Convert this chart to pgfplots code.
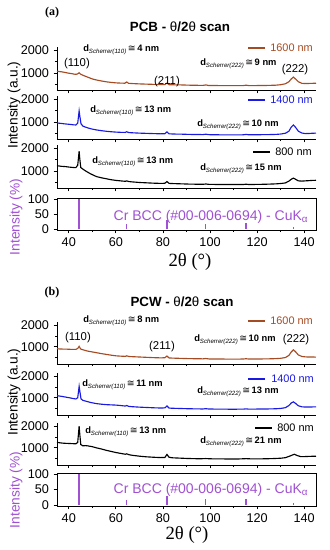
\documentclass[border=0pt]{standalone}
\usepackage{pgfplots}
\pgfplotsset{compat=1.18}
\usepackage{fontspec}
\setmainfont{Liberation Sans}
\newfontfamily\seriffont{Liberation Serif}
\newfontfamily\symfont{DejaVu Sans}
\definecolor{cbrown}{RGB}{165,75,35}
\definecolor{cblue}{RGB}{25,25,225}
\definecolor{cviolet}{RGB}{160,80,210}
\newcommand{\dsch}[2]{{\fontsize{7}{8}\selectfont\bfseries d\raisebox{-1.5pt}{\fontsize{4.6}{5}\selectfont\itshape\mdseries Scherrer(#1)}\,{\symfont\mdseries ≅}\,#2 nm}}
\pgfplotsset{
 base/.style={scale only axis, width=194.25pt, xmin=35, xmax=145, anchor=south west,
   tick align=outside, xtick={40,60,...,140}, minor xtick={50,70,...,130},
   major tick length=2.5pt, minor tick length=1.6pt,
   tick style={line width=0.6pt, black},
   ticklabel style={font=\fontsize{9.5}{10}\selectfont},
   /pgf/number format/1000 sep={}, /pgf/number format/assume math mode=true},
 xrd/.style={base, axis x line*=bottom, axis y line*=left, axis line style={line width=0.6pt,-},
   xticklabels={}, ytick={1000,2000}, minor ytick={500,1500}, ymax=2150},
 xrda/.style={xrd, height=32.625pt, ymin=260},
 xrdb/.style={xrd, height=31.5pt, ymin=200},
 refax/.style={base, axis line style={line width=0.6pt}, xtick pos=left, ytick pos=left,
   ytick={0,50,100}, ymin=-3, ymax=103},
 curve/.style={line width=0.85pt, no markers},
 sticks/.style={ycomb, mark=none, draw=cviolet, line width=1pt},
}
\begin{document}
\begin{tikzpicture}
\path[use as bounding box] (0pt,0pt) rectangle (246.75pt,-412.5pt);

% ---------------- Panel (a) ----------------
\begin{axis}[xrda, at={(42.75pt,-67.5pt)}]
\addplot[curve, cbrown] coordinates {
(35,1080)(36,1060)(37,1050)(38,1030)(39,1010)(40,990)(41,975)(42,955)(43,940)(43.8,960)(44.4,1010)(45,950)(46,900)(47,860)(48,820)(49,780)(50,740)(52,690)(54,650)(56,615)(58,590)(60,570)(62,560)(63.8,555)(64.6,610)(65.4,550)(67,540)(70,525)(73,515)(76,505)(79,495)(80.8,495)(81.7,560)(82.6,490)(85,485)(88,480)(91,470)(94,465)(97,460)(98.2,480)(99.5,455)(102,455)(105,450)(108,450)(111,448)(114,450)(115.3,470)(116.5,450)(119,452)(122,455)(125,460)(128,470)(130,490)(132,530)(133.5,620)(134.5,740)(135.4,820)(136.3,740)(137.5,620)(139,550)(140.5,540)(142,545)(143.5,550)(145,555)};
\end{axis}
\begin{axis}[xrda, at={(42.75pt,-104.25pt)}]
\addplot[curve, cblue] coordinates {
(35,960)(36,945)(37,935)(38,920)(39,910)(40,900)(41,890)(42,875)(43,870)(43.8,950)(44.2,1300)(44.4,1480)(44.7,1250)(45.2,920)(46,820)(47,780)(48,745)(49,715)(50,690)(52,650)(54,620)(56,595)(58,575)(60,560)(62,550)(64,545)(64.6,575)(65.5,540)(67,530)(70,515)(73,505)(76,495)(79,485)(80.8,490)(81.7,570)(82.6,485)(85,475)(88,470)(91,460)(94,455)(97,452)(98.2,470)(99.5,448)(102,445)(105,440)(108,440)(111,440)(114,442)(115.3,460)(116.5,442)(119,445)(122,448)(125,452)(128,460)(130,475)(132,510)(133.5,600)(134.5,780)(135.4,870)(136.3,770)(137.5,600)(139,520)(140.5,495)(142,500)(143.5,510)(145,515)};
\end{axis}
\begin{axis}[xrda, at={(42.75pt,-141pt)}]
\addplot[curve, black] coordinates {
(35,1230)(36,1215)(37,1200)(38,1195)(39,1185)(40,1170)(41,1160)(42,1150)(43,1145)(43.8,1250)(44.2,1650)(44.4,1860)(44.7,1500)(45.1,1150)(46,1080)(47,1010)(48,950)(49,890)(50,840)(51,790)(52,750)(54,700)(56,660)(58,620)(60,590)(62,570)(64,550)(64.6,570)(65.5,540)(67,525)(70,500)(73,485)(76,470)(79,460)(80.8,465)(81.7,540)(82.6,460)(85,450)(88,440)(91,430)(94,425)(97,420)(98.2,435)(99.5,418)(102,415)(105,412)(108,410)(111,410)(114,412)(115.3,425)(116.5,412)(119,415)(122,420)(125,428)(128,440)(130,455)(132,480)(133.5,560)(134.5,640)(135.4,690)(136.3,640)(137.5,570)(139,560)(140.5,570)(142,580)(143.5,590)(145,595)};
\end{axis}
\begin{axis}[refax, height=23.85pt, at={(42.75pt,-172.5pt)}]
\addplot[sticks] coordinates {(44.4,100)(64.6,16)(81.7,30)(98.2,18)(115.3,20)(135.4,6)};
\end{axis}

% ---------------- Panel (b) ----------------
\begin{axis}[xrdb, at={(42.75pt,-273pt)}]
\addplot[curve, cbrown] coordinates {
(35,910)(36,900)(37,895)(38,890)(39,890)(40,885)(41,880)(42,880)(43,880)(43.8,920)(44.4,1020)(45,900)(46,860)(47,830)(48,800)(49,780)(50,760)(52,720)(54,680)(56,645)(58,610)(60,580)(62,565)(64,555)(64.6,580)(65.5,550)(67,540)(70,525)(73,510)(76,495)(79,485)(80.8,490)(81.7,570)(82.6,480)(85,470)(88,460)(91,450)(94,445)(97,440)(98.2,455)(99.5,435)(102,432)(105,430)(108,428)(111,428)(114,430)(115.3,445)(116.5,430)(119,432)(122,435)(125,440)(128,450)(130,465)(132,500)(133.5,600)(134.5,760)(135.4,860)(136.3,770)(137.5,620)(139,550)(140.5,530)(142,525)(143.5,525)(145,520)};
\end{axis}
\begin{axis}[xrdb, at={(42.75pt,-311.25pt)}]
\addplot[curve, cblue] coordinates {
(35,1100)(36,1080)(37,1065)(38,1045)(39,1025)(40,1005)(41,985)(42,960)(43,945)(43.8,1000)(44.2,1350)(44.4,1530)(44.7,1300)(45.2,950)(46,880)(47,850)(48,820)(49,790)(50,765)(52,725)(54,700)(56,680)(58,670)(60,660)(62,640)(64,615)(64.6,640)(65.5,600)(67,585)(70,565)(73,550)(76,535)(79,525)(80.8,530)(81.7,620)(82.6,520)(85,510)(88,500)(91,490)(94,485)(97,480)(98.2,495)(99.5,478)(102,475)(105,472)(108,470)(111,470)(114,472)(115.3,485)(116.5,472)(119,475)(122,478)(125,482)(128,490)(130,505)(132,540)(133.5,640)(134.5,760)(135.4,810)(136.3,740)(137.5,630)(139,580)(140.5,570)(142,570)(143.5,575)(145,575)};
\end{axis}
\begin{axis}[xrdb, at={(42.75pt,-348.75pt)}]
\addplot[curve, black] coordinates {
(35,1250)(36,1235)(37,1220)(38,1210)(39,1205)(40,1200)(41,1195)(42,1190)(43,1185)(43.8,1250)(44.2,1750)(44.4,2000)(44.7,1600)(45.1,1150)(46,1090)(47,1100)(48,1090)(49,1070)(50,1050)(51,1020)(52,990)(54,940)(56,880)(58,830)(60,780)(62,740)(64,700)(64.6,720)(65.5,680)(67,650)(70,610)(73,580)(76,560)(79,545)(80.8,550)(81.7,690)(82.6,560)(84,535)(87,520)(90,505)(93,495)(96,490)(98.2,500)(100,488)(103,485)(106,482)(109,480)(112,480)(115.3,495)(118,482)(121,485)(124,490)(127,500)(130,515)(132,540)(134,620)(135.8,700)(137,640)(138.5,590)(140,590)(142,600)(143.5,605)(145,610)};
\end{axis}
\begin{axis}[refax, height=24.7pt, at={(42.75pt,-379.5pt)}]
\addplot[sticks] coordinates {(44.4,100)(64.6,16)(81.7,30)(98.2,18)(115.3,20)(135.4,6)};
\end{axis}

\begin{scope}[x=0.75pt, y=-0.75pt]
% ---------------- Texts (a) ----------------
\node[font=\seriffont\bfseries\fontsize{9}{10}\selectfont] at (52,13) {(a)};
\node[font=\bfseries\fontsize{10}{12}\selectfont] at (180,27) {PCB - {\mdseries θ}/2{\mdseries θ} scan};
\node[rotate=90, font=\fontsize{10.3}{12}\selectfont] at (14,105) {Intensity (a.u.)};
\node[rotate=90, font=\fontsize{10.3}{12}\selectfont, text=cviolet] at (16,217) {Intensity (\%)};
\node[font=\seriffont\fontsize{14}{16}\selectfont] at (190,262) {2θ (°)};
\node[anchor=east, font=\fontsize{10.5}{12}\selectfont, text=cviolet] at (313,217) {Cr BCC (\#00-006-0694) - CuK\textsubscript{α}};
\draw[cbrown, line width=0.8pt] (248,48) -- (265,48);
\node[anchor=west, font=\fontsize{8.2}{9}\selectfont, text=cbrown, inner sep=0pt] at (270,48) {1600 nm};
\draw[cblue, line width=0.8pt] (248,100) -- (265,100);
\node[anchor=west, font=\fontsize{8.2}{9}\selectfont, text=cblue, inner sep=0pt] at (270,100) {1400 nm};
\draw[black, line width=0.8pt] (253,152) -- (270,152);
\node[anchor=west, font=\fontsize{8.2}{9}\selectfont, inner sep=0pt] at (275,152) {800 nm};
\node[anchor=west, inner sep=0pt] at (83,50) {\dsch{110}{4}};
\node[font=\fontsize{8.5}{9}\selectfont] at (77,64) {(110)};
\node[font=\fontsize{8.5}{9}\selectfont] at (167,82) {(211)};
\node[anchor=west, inner sep=0pt] at (200,64) {\dsch{222}{9}};
\node[font=\fontsize{8.5}{9}\selectfont] at (295,70) {(222)};
\node[anchor=west, inner sep=0pt] at (90,111) {\dsch{110}{13}};
\node[anchor=west, inner sep=0pt] at (197,125) {\dsch{222}{10}};
\node[anchor=west, inner sep=0pt] at (92,162) {\dsch{110}{13}};
\node[anchor=west, inner sep=0pt] at (200,169) {\dsch{222}{15}};

% ---------------- Texts (b) ----------------
\node[font=\seriffont\bfseries\fontsize{9}{10}\selectfont] at (52,293) {(b)};
\node[font=\bfseries\fontsize{10}{12}\selectfont] at (182,302) {PCW - {\mdseries θ}/2{\mdseries θ} scan};
\node[rotate=90, font=\fontsize{10.3}{12}\selectfont] at (14,392) {Intensity (a.u.)};
\node[rotate=90, font=\fontsize{10.3}{12}\selectfont, text=cviolet] at (16,490) {Intensity (\%)};
\node[font=\seriffont\fontsize{14}{16}\selectfont] at (187,535) {2θ (°)};
\node[anchor=east, font=\fontsize{10.5}{12}\selectfont, text=cviolet] at (313,490) {Cr BCC (\#00-006-0694) - CuK\textsubscript{α}};
\draw[cbrown, line width=0.8pt] (248,321) -- (265,321);
\node[anchor=west, font=\fontsize{8.2}{9}\selectfont, text=cbrown, inner sep=0pt] at (270,321) {1600 nm};
\draw[cblue, line width=0.8pt] (248,379) -- (265,379);
\node[anchor=west, font=\fontsize{8.2}{9}\selectfont, text=cblue, inner sep=0pt] at (271,379) {1400 nm};
\draw[black, line width=0.8pt] (255,428) -- (272,428);
\node[anchor=west, font=\fontsize{8.2}{9}\selectfont, inner sep=0pt] at (277,428) {800 nm};
\node[anchor=west, inner sep=0pt] at (83,321) {\dsch{110}{8}};
\node[font=\fontsize{8.5}{9}\selectfont] at (78,338) {(110)};
\node[font=\fontsize{8.5}{9}\selectfont] at (162,347) {(211)};
\node[anchor=west, inner sep=0pt] at (194,340) {\dsch{222}{10}};
\node[font=\fontsize{8.5}{9}\selectfont] at (296,340) {(222)};
\node[anchor=west, inner sep=0pt] at (82,385) {\dsch{110}{11}};
\node[anchor=west, inner sep=0pt] at (197,392) {\dsch{222}{13}};
\node[anchor=west, inner sep=0pt] at (85,432) {\dsch{110}{13}};
\node[anchor=west, inner sep=0pt] at (200,442) {\dsch{222}{21}};
\end{scope}
\end{tikzpicture}
\end{document}
